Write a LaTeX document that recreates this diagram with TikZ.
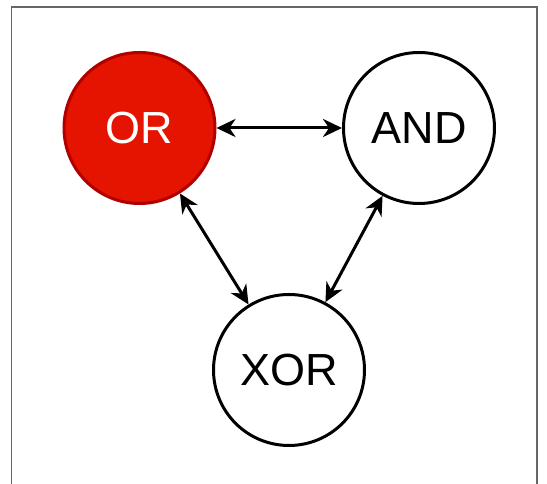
\documentclass[tikz,border=0pt]{standalone}
\usepackage{fontspec}
\setmainfont{Liberation Sans}
\usetikzlibrary{arrows.meta}
\definecolor{orfill}{HTML}{E51400}
\definecolor{orline}{HTML}{B20000}
\tikzset{
  gate/.style={circle, draw=black, line width=3pt, fill=white, minimum size=151pt, inner sep=0pt, text=black, font=\fontsize{45}{50}\selectfont},
  redgate/.style={gate, draw=orline, fill=orfill, text=white},
  tip/.style={Stealth[length=19pt,width=18pt,inset=6pt]},
  link/.style={line width=3pt, {Stealth[length=19pt,width=18pt,inset=6pt]}-{Stealth[length=19pt,width=18pt,inset=6pt]}},
  frameline/.style={line width=1.5pt, draw=black!60}
}
\begin{document}
\begin{tikzpicture}[x=1pt,y=1pt]
\useasboundingbox (0,0) rectangle (547,484);
\fill[white] (0,0) rectangle (547,484);
\draw[frameline] (11.5,0) -- (11.5,477) -- (537,477) -- (537,0);
\node[redgate] (or) at (139.5,356) {OR};
\node[gate] (and) at (419,356) {AND};
\node[gate] (xor) at (289,114) {XOR};
\draw[link] (or) -- (and);
\draw[link] (or) -- (xor);
\draw[link] (and) -- (xor);
\end{tikzpicture}
\end{document}
